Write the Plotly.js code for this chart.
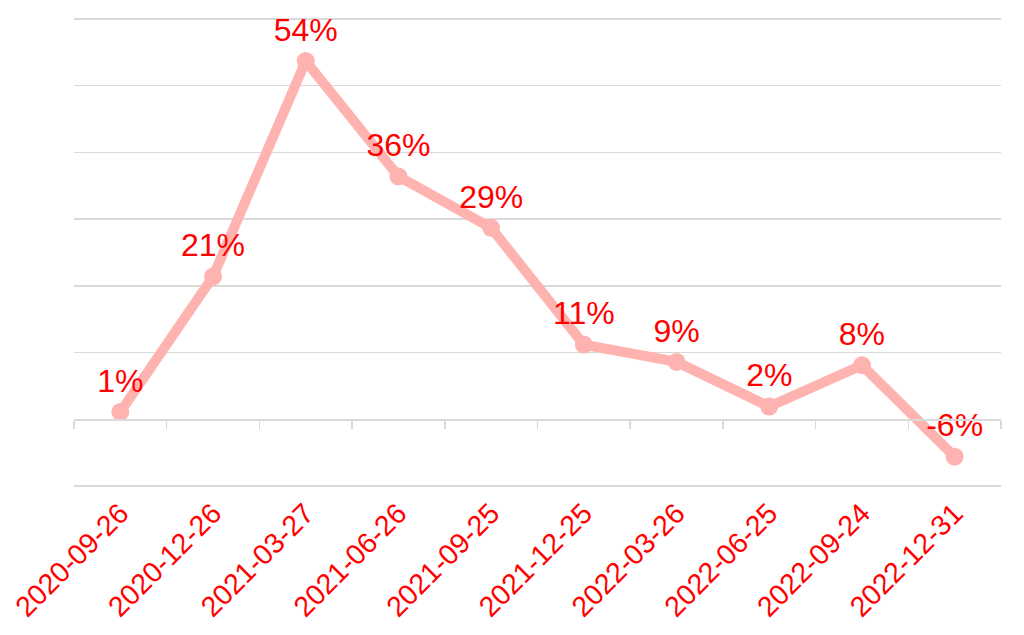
<!DOCTYPE html>
<html>
<head>
<meta charset="utf-8">
<script src="https://cdn.plot.ly/plotly-3.0.1.min.js"></script>
<style>html,body{margin:0;padding:0;background:#fff;}#chart{width:1024px;height:635px;}</style>
</head>
<body>
<div id="chart"></div>
<script>
const categories = ["2020-09-26","2020-12-26","2021-03-27","2021-06-26","2021-09-25","2021-12-25","2022-03-26","2022-06-25","2022-09-24","2022-12-31"];
const values = [1.1, 21.4, 53.7, 36.4, 28.7, 11.2, 8.6, 1.9, 8.1, -5.6];

const lineColor = "#FFB3B0";
const labelColor = "#FF0000";
const gridColor = "#D9D9D9";

const traces = [
  {
    x: categories, y: values, type: "scatter", mode: "lines+markers+text",
    line: {color: lineColor, width: 10},
    marker: {color: lineColor, size: 18},
    texttemplate: "%{y:.0f}%", textposition: "top center",
    textfont: {family: "Liberation Sans, Arial, sans-serif", size: 32, color: labelColor},
    cliponaxis: false, showlegend: false, hoverinfo: "skip"
  },
  {
    x: categories, y: values, type: "scatter", mode: "lines",
    line: {color: "rgba(0,0,0,0)", width: 0}, xaxis: "x2",
    showlegend: false, hoverinfo: "skip"
  }
];

const yMin = -10.3, yMax = 60.3;
const layout = {
  width: 1024, height: 635,
  margin: {l: 74, r: 23, t: 17, b: 147},
  paper_bgcolor: "#fff", plot_bgcolor: "#fff",
  font: {family: "Liberation Sans, Arial, sans-serif"},
  xaxis: {
    type: "category", range: [-0.5, categories.length - 0.5],
    showgrid: false, showline: false, zeroline: false,
    ticks: "", tickangle: -45, ticklabelstandoff: 2,
    tickfont: {family: "Liberation Sans, Arial, sans-serif", size: 28.5, color: labelColor}
  },
  xaxis2: {
    type: "category", overlaying: "x", matches: "x", anchor: "free",
    position: (0 - yMin) / (yMax - yMin),
    showgrid: false, showline: true, linecolor: gridColor, linewidth: 1.5,
    ticks: "outside", tickson: "boundaries", ticklen: 8, tickcolor: gridColor, tickwidth: 1.5,
    showticklabels: false, zeroline: false
  },
  yaxis: {
    range: [yMin, yMax], dtick: 10, tick0: 0, showticklabels: false,
    showgrid: true, gridcolor: gridColor, gridwidth: 1.5,
    zeroline: false, showline: false, ticks: ""
  }
};

Plotly.newPlot("chart", traces, layout, {displayModeBar: false, staticPlot: true});
</script>
</body>
</html>
